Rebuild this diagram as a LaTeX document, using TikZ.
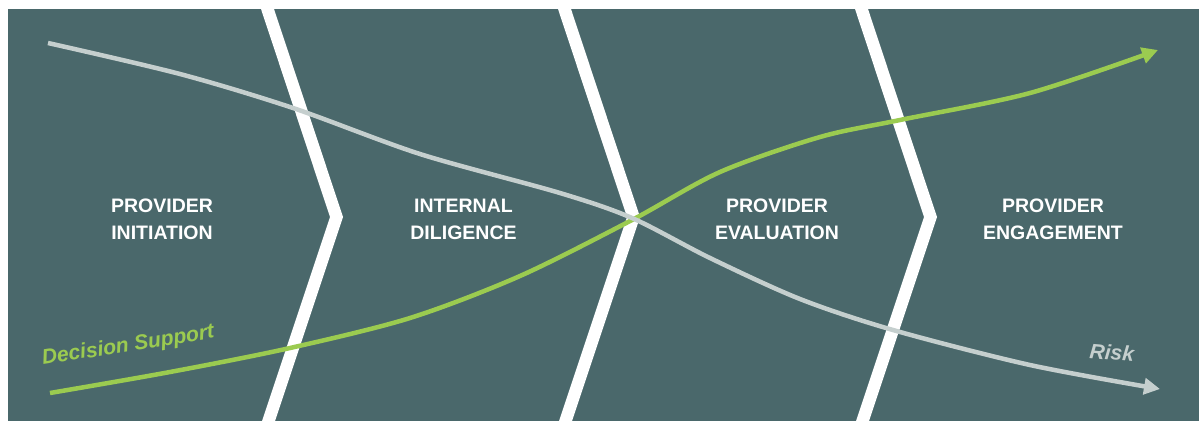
\documentclass[tikz,border=0pt]{standalone}
\usepackage{fontspec}
\setmainfont{Liberation Sans}
\usetikzlibrary{arrows.meta}
\definecolor{slate}{RGB}{74,104,107}
\definecolor{leaf}{RGB}{155,203,80}
\definecolor{mist}{RGB}{197,207,206}
\begin{document}
\begin{tikzpicture}[x=1pt, y=-1pt,
    stage/.style={text=white, font=\bfseries\fontsize{19.5}{27}\selectfont, align=center, inner sep=0pt},
    divider/.style={fill=white, draw=none},
    trend/.style={line width=4.5pt, -{Triangle[length=16pt, width=16pt]}},
    trendlabel/.style={font=\bfseries\itshape\fontsize{21}{24}\selectfont, inner sep=0pt, anchor=base west}]
    \useasboundingbox (0,0) rectangle (1199,421);
    \fill[slate] (8,9) rectangle (1199,421); % panel
    \foreach \dx in {0, 297, 594} { % white chevron gaps
      \fill[divider, xshift=\dx] (261,9) -- (274,9) -- (343,217) -- (275,421) -- (262,421) -- (330,217) -- cycle;
    }
    \draw[trend, leaf] plot[smooth] coordinates {(50,393) (170,372) (290,348) (410,318) (520,276) (632,220) (720,172) (820,137) (900,120) (1030,93) (1158,50)}; % decision support
    \draw[trend, mist] plot[smooth] coordinates {(48,43) (180,74) (293,108) (420,154) (560,193) (632,218) (710,258) (800,299) (893,330) (1030,365) (1160,389)}; % risk
    \node[stage] (initiation) at (162,219) {PROVIDER\\INITIATION};
    \node[stage] (diligence) at (463.5,219) {INTERNAL\\DILIGENCE};
    \node[stage] (evaluation) at (777,219) {PROVIDER\\EVALUATION};
    \node[stage] (engagement) at (1053,219) {PROVIDER\\ENGAGEMENT};
    \node[trendlabel, text=leaf, rotate=9] (support) at (43,365) {Decision Support};
    \node[trendlabel, text=mist, rotate=-5] (risk) at (1089,358) {Risk};
\end{tikzpicture}
\end{document}
